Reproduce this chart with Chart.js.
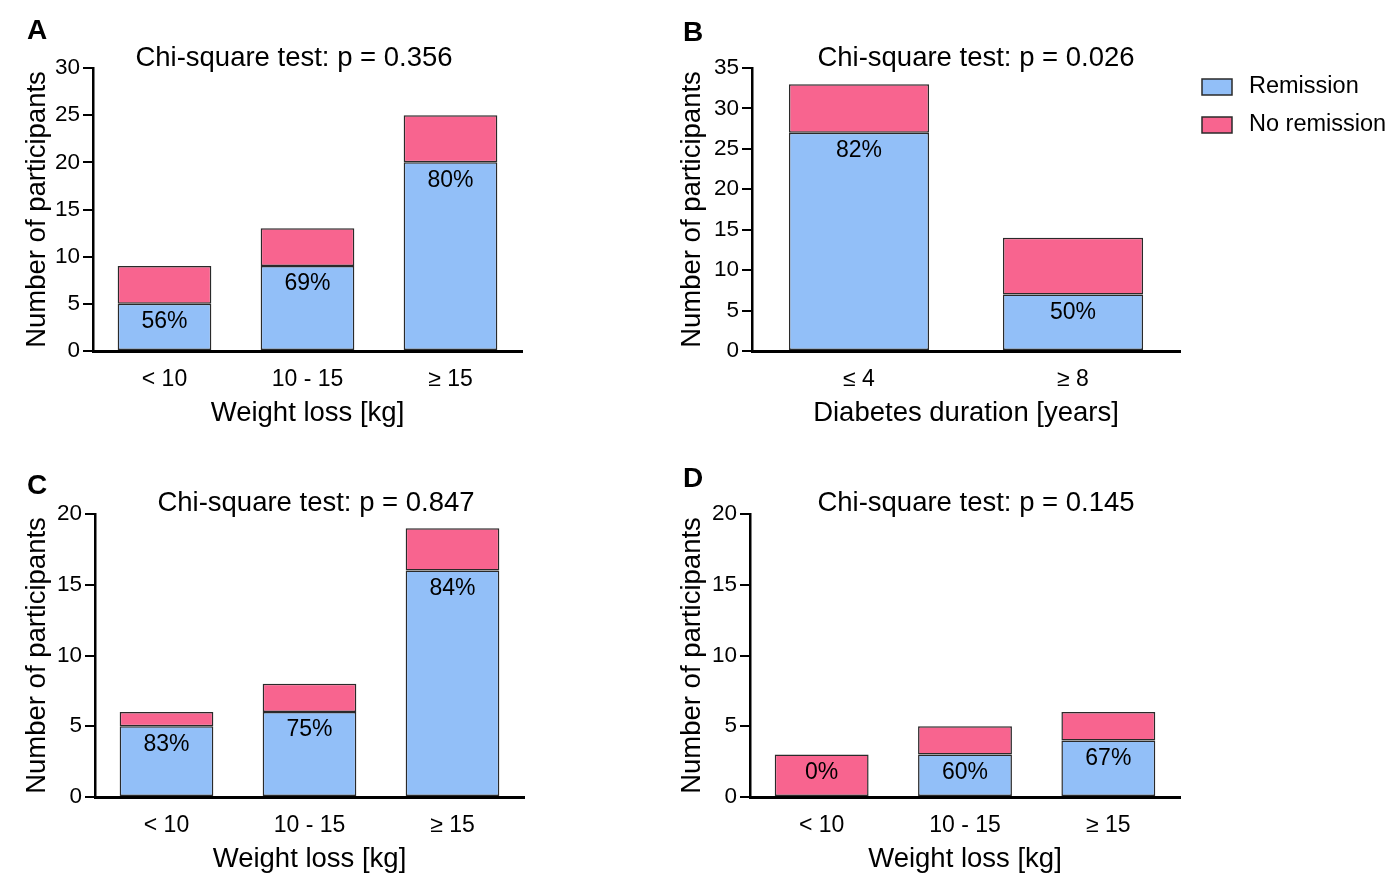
<!DOCTYPE html>
<html lang="en">
<head>
    <meta charset="UTF-8">
    <title>Remission by weight loss and diabetes duration</title>
    <script src="https://cdn.jsdelivr.net/npm/chart.js"></script>
    <style>
        body {
            margin: 0;
            background: #fff;
            width: 1395px;
            height: 888px;
            position: relative;
            overflow: hidden;
        }
        .panel {
            position: absolute;
        }
    </style>
</head>
<body>
    <div class="panel" style="left:0;top:0;width:660px;height:440px"><canvas id="chartA"></canvas></div>
    <div class="panel" style="left:660px;top:0;width:735px;height:440px"><canvas id="chartB"></canvas></div>
    <div class="panel" style="left:0;top:440px;width:660px;height:448px"><canvas id="chartC"></canvas></div>
    <div class="panel" style="left:660px;top:440px;width:735px;height:448px"><canvas id="chartD"></canvas></div>

    <script>
        // data
        const weightCats = ['< 10', '10 - 15', '\u2265 15'];
        const durationCats = ['\u2264 4', '\u2265 8'];

        const remissionA = [5, 9, 20];
        const noRemissionA = [4, 4, 5];
        const remissionB = [27, 7];
        const noRemissionB = [6, 7];
        const remissionC = [5, 6, 16];
        const noRemissionC = [1, 2, 3];
        const remissionD = [0, 3, 4];
        const noRemissionD = [3, 2, 2];

        const yMaxA = 30, yMaxB = 35, yMaxC = 20, yMaxD = 20;
        const pValues = ['0.356', '0.026', '0.847', '0.145'];
        const seriesNames = ['Remission', 'No remission'];

        const FONT = "'Liberation Sans', Arial, Helvetica, sans-serif";
        const BLUE = '#92bff8';
        const PINK = '#f8648f';
        const EDGE = '#2a2a2a';

        // letter, title, percentages inside the bars, optional legend
        const panelText = {
            id: 'panelText',
            afterDatasetsDraw(chart, args, opts) {
                const ctx = chart.ctx;
                ctx.save();
                ctx.fillStyle = '#000';
                ctx.textBaseline = 'middle';

                ctx.font = 'bold 28px ' + FONT;
                ctx.textAlign = 'center';
                ctx.fillText(opts.letter, opts.letterX, opts.letterY);

                ctx.font = '27.5px ' + FONT;
                ctx.fillText(opts.title, opts.titleX, opts.titleY);

                // percentage labels
                const rem = chart.data.datasets[0].data;
                const no = chart.data.datasets[1].data;
                const m0 = chart.getDatasetMeta(0);
                const m1 = chart.getDatasetMeta(1);
                ctx.font = '23px ' + FONT;
                rem.forEach((r, i) => {
                    const pct = Math.round(100 * r / (r + no[i])) + '%';
                    const el = r > 0 ? m0.data[i] : m1.data[i];
                    ctx.fillText(pct, el.x, el.y + 18);
                });

                if (opts.legend) {
                    const lg = opts.legend;
                    ctx.font = '23.5px ' + FONT;
                    chart.data.datasets.forEach((ds, i) => {
                        const y = lg.y + i * lg.gap;
                        ctx.fillStyle = ds.backgroundColor;
                        ctx.fillRect(lg.x, y - 8, 30, 16);
                        ctx.strokeStyle = EDGE;
                        ctx.lineWidth = 1.5;
                        ctx.strokeRect(lg.x, y - 8, 30, 16);
                        ctx.fillStyle = '#000';
                        ctx.textAlign = 'left';
                        ctx.fillText(ds.label, lg.x + 47, y);
                    });
                }
                ctx.restore();
            }
        };

        function makeChart(id, cats, rem, noRem, yMax, cfg) {
            return new Chart(document.getElementById(id), {
                type: 'bar',
                data: {
                    labels: cats,
                    datasets: [{
                        label: seriesNames[0],
                        data: rem,
                        backgroundColor: BLUE,
                        borderColor: EDGE,
                        borderWidth: 1.5,
                        borderSkipped: false,
                        barPercentage: 0.655,
                        categoryPercentage: 1
                    }, {
                        label: seriesNames[1],
                        data: noRem,
                        backgroundColor: PINK,
                        borderColor: EDGE,
                        borderWidth: 1.5,
                        borderSkipped: false,
                        barPercentage: 0.655,
                        categoryPercentage: 1
                    }]
                },
                options: {
                    responsive: true,
                    maintainAspectRatio: false,
                    animation: false,
                    layout: {
                        padding: { left: 0, top: cfg.top, right: cfg.right, bottom: 0 }
                    },
                    plugins: {
                        legend: { display: false },
                        tooltip: { enabled: false },
                        panelText: cfg.text
                    },
                    scales: {
                        x: {
                            stacked: true,
                            grid: { display: false, drawTicks: false },
                            border: { display: true, color: '#000', width: 3 },
                            ticks: { color: '#000', padding: 15, font: { family: FONT, size: 23 } },
                            title: {
                                display: true,
                                text: cfg.xTitle,
                                color: '#000',
                                font: { family: FONT, size: 27.5 },
                                padding: { top: 0, bottom: cfg.xTitlePad }
                            },
                            afterFit(scale) { scale.height = cfg.xHeight; }
                        },
                        y: {
                            stacked: true,
                            min: 0,
                            max: yMax,
                            grid: {
                                drawOnChartArea: false,
                                drawTicks: true,
                                tickLength: 10,
                                color: '#000',
                                lineWidth: 2
                            },
                            border: { display: true, color: '#000', width: 2.5 },
                            ticks: {
                                stepSize: 5,
                                color: '#000',
                                padding: 3,
                                font: { family: FONT, size: 22.5 }
                            },
                            title: {
                                display: true,
                                text: 'Number of participants',
                                color: '#000',
                                font: { family: FONT, size: 27.5 },
                                padding: { top: cfg.yTitlePad, bottom: 0 }
                            },
                            afterFit(scale) { scale.width = cfg.yWidth; }
                        }
                    }
                },
                plugins: [panelText]
            });
        }

        makeChart('chartA', weightCats, remissionA, noRemissionA, yMaxA, {
            top: 68, right: 138, xHeight: 89, yWidth: 93, xTitlePad: 10.5, yTitlePad: 20.5,
            xTitle: 'Weight loss [kg]',
            text: { letter: 'A', letterX: 37, letterY: 31, title: 'Chi-square test: p = ' + pValues[0], titleX: 294, titleY: 58 }
        });

        makeChart('chartB', durationCats, remissionB, noRemissionB, yMaxB, {
            top: 68, right: 215, xHeight: 89, yWidth: 92, xTitlePad: 10.5, yTitlePad: 15.5,
            xTitle: 'Diabetes duration [years]',
            text: {
                letter: 'B', letterX: 33, letterY: 33, title: 'Chi-square test: p = ' + pValues[1], titleX: 316, titleY: 58,
                legend: { x: 542, y: 87, gap: 38 }
            }
        });

        makeChart('chartC', weightCats, remissionC, noRemissionC, yMaxC, {
            top: 74, right: 136, xHeight: 91, yWidth: 95, xTitlePad: 12.5, yTitlePad: 20.5,
            xTitle: 'Weight loss [kg]',
            text: { letter: 'C', letterX: 37, letterY: 46, title: 'Chi-square test: p = ' + pValues[2], titleX: 316, titleY: 63 }
        });

        makeChart('chartD', weightCats, remissionD, noRemissionD, yMaxD, {
            top: 74, right: 215, xHeight: 91, yWidth: 90, xTitlePad: 12.5, yTitlePad: 15.5,
            xTitle: 'Weight loss [kg]',
            text: { letter: 'D', letterX: 33, letterY: 39, title: 'Chi-square test: p = ' + pValues[3], titleX: 316, titleY: 63 }
        });
    </script>
</body>
</html>
